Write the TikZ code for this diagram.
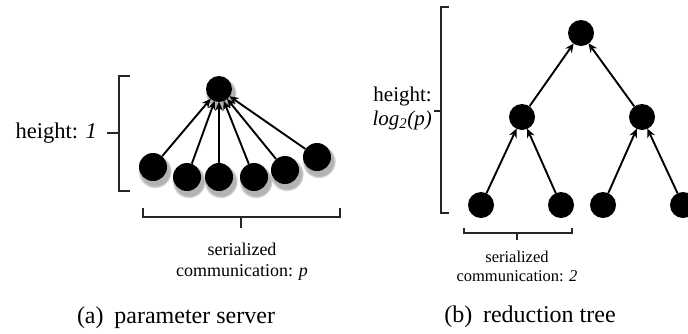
\documentclass[tikz,border=0pt]{standalone}
\usepackage{fontspec}
\setmainfont{Liberation Serif}
\usetikzlibrary{arrows.meta,shadows,fadings}
\begin{document}
\begin{tikzpicture}[x=1pt,y=-1pt,
  dot/.style={circle,fill=black,inner sep=0pt,minimum size=26pt},
  sdot/.style={dot,minimum size=28pt,
    circular drop shadow={shadow xshift=1.5pt,shadow yshift=-3.5pt,shadow scale=1.22,opacity=0.6}},
  link/.style={line width=1.9pt,shorten >=-0.5pt,-{Stealth[length=9pt,width=8pt]}},
  bracket/.style={line width=1.8pt,black!85},
  label/.style={inner sep=0pt},
  small/.style={label,align=center},
]
\useasboundingbox (0,0) rectangle (688,333);

% ---------- (a) parameter server ----------
\foreach \n/\x/\y in {w1/153/167, w2/187/177, w3/219/177, w4/254/177, w5/285/170, w6/317/157}
  \node[sdot] (\n) at (\x,\y) {};
\node[sdot,minimum size=26pt] (ps) at (219,89) {};
\foreach \n in {w1,w2,w3,w4,w5,w6}
  \draw[link] (\n) -- (ps);

% height bracket
\draw[bracket] (130,76) -- (119,76) -- (119,191) -- (130,191);
\draw[bracket] (107,133) -- (119,133);
\node[label,anchor=east,font=\fontsize{22.5}{24}\selectfont] (ha) at (97,133) {height: \textit{1}};

% communication bracket
\draw[bracket] (143,208) -- (143,217) -- (340,217) -- (340,208);
\draw[bracket] (241,217) -- (241,228);
\node[small,font=\fontsize{18}{21}\selectfont] (ca) at (242,262)
  {serialized\\communication: \textit{p}};

\node[label,font=\fontsize{24}{28}\selectfont] (capa) at (176,318)
  {(a)\hspace{0.45em}parameter server};

% ---------- (b) reduction tree ----------
\node[dot] (r)  at (581,33) {};
\node[dot] (m1) at (522,117) {};
\node[dot] (m2) at (642,117) {};
\node[dot] (l1) at (481,205) {};
\node[dot] (l2) at (561,205) {};
\node[dot] (l3) at (603,205) {};
\node[dot] (l4) at (683,205) {};
\draw[link] (l1) -- (m1);
\draw[link] (l2) -- (m1);
\draw[link] (l3) -- (m2);
\draw[link] (l4) -- (m2);
\draw[link] (m1) -- (r);
\draw[link] (m2) -- (r);

% height bracket
\draw[bracket] (449,7) -- (441,7) -- (441,213) -- (449,213);
\draw[bracket] (434,111) -- (441,111);
\node[label,anchor=east,align=right,font=\fontsize{21}{24}\selectfont] (hb) at (432,108)
  {height:\\\textit{log}\textsubscript{\textit{2}}\textit{(p)}};

% communication bracket
\draw[bracket] (464,228) -- (464,233) -- (572,233) -- (572,228);
\draw[bracket] (517,233) -- (517,240);
\node[small,font=\fontsize{16.5}{19}\selectfont] (cb) at (517,266)
  {serialized\\communication: \textit{2}};

\node[label,font=\fontsize{24}{28}\selectfont] (capb) at (530,317)
  {(b)\hspace{0.45em}reduction tree};
\end{tikzpicture}
\end{document}
